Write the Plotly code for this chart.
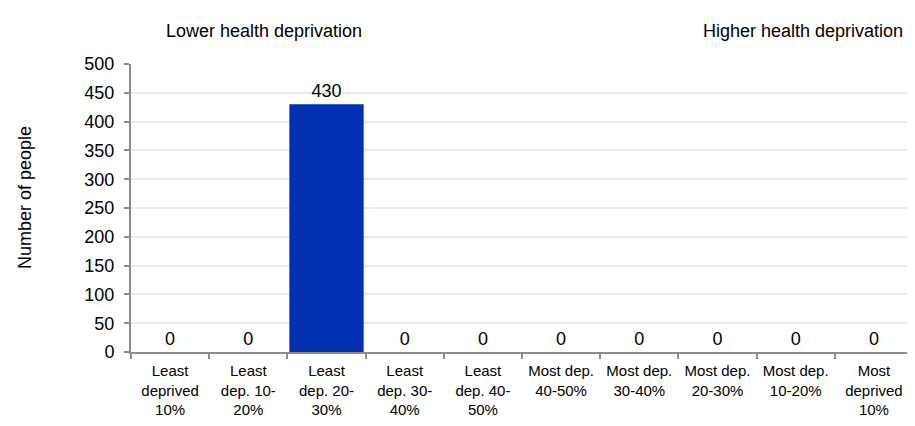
import plotly.graph_objects as go

categories = ["Least<br>deprived<br>10%", "Least<br>dep. 10-<br>20%", "Least<br>dep. 20-<br>30%",
              "Least<br>dep. 30-<br>40%", "Least<br>dep. 40-<br>50%", "Most dep.<br>40-50%",
              "Most dep.<br>30-40%", "Most dep.<br>20-30%", "Most dep.<br>10-20%",
              "Most<br>deprived<br>10%"]
values = [0, 0, 430, 0, 0, 0, 0, 0, 0, 0]
y_ticks = [0, 50, 100, 150, 200, 250, 300, 350, 400, 450, 500]

FONT = "Liberation Sans, Arial, sans-serif"

# page body has an 8px default margin; figure sized/positioned to compensate
OFF = 8
W, H = 907, 418
L, T, R, B = 131 - OFF, 64 - OFF, 2, H - (352 - OFF)

fig = go.Figure(go.Bar(
    x=categories, y=values,
    marker=dict(color="#0230B0", line=dict(width=0)),
    text=[str(v) for v in values], textposition="outside",
    textfont=dict(size=18, color="#000000", family=FONT),
    cliponaxis=False, width=0.95,
))

def px2paper(sx, sy):
    fx, fy = sx - OFF, sy - OFF
    return (fx - L) / (W - L - R), (H - B - fy) / (H - T - B)

ax, ay = px2paper(25, 198)
lx, ly = px2paper(264, 31)
hx, hy = px2paper(905, 31)

fig.update_layout(
    width=W, height=H,
    margin=dict(l=L, r=R, t=T, b=B, autoexpand=False),
    paper_bgcolor="white", plot_bgcolor="white",
    showlegend=False,
    font=dict(family=FONT, color="#000000"),
    xaxis=dict(
        showline=True, linecolor="#8c8c8c", linewidth=2,
        ticks="outside", tickson="boundaries", ticklen=5, tickcolor="#8c8c8c", tickwidth=2,
        tickfont=dict(size=15, family=FONT), showgrid=False,
        ticklabelstandoff=4,
    ),
    yaxis=dict(
        range=[0, 500], tickvals=y_ticks,
        showline=True, linecolor="#8c8c8c", linewidth=2,
        ticks="outside", ticklen=5, tickcolor="#8c8c8c", tickwidth=2,
        tickfont=dict(size=18, family=FONT),
        showgrid=True, gridcolor="#ebebeb", gridwidth=1.5,
        zeroline=False, ticklabelstandoff=6,
    ),
    annotations=[
        dict(text="Number of people", x=ax, y=ay, xref="paper", yref="paper",
             xanchor="center", yanchor="middle",
             showarrow=False, textangle=-90, font=dict(size=18, family=FONT)),
        dict(text="Lower health deprivation", x=lx, y=ly, xref="paper", yref="paper",
             xanchor="center", yanchor="middle",
             showarrow=False, font=dict(size=18, family=FONT)),
        dict(text="Higher health deprivation", x=hx, y=hy, xref="paper", yref="paper",
             xanchor="right", yanchor="middle",
             showarrow=False, font=dict(size=18, family=FONT)),
    ],
)

fig.write_html("out.html")
